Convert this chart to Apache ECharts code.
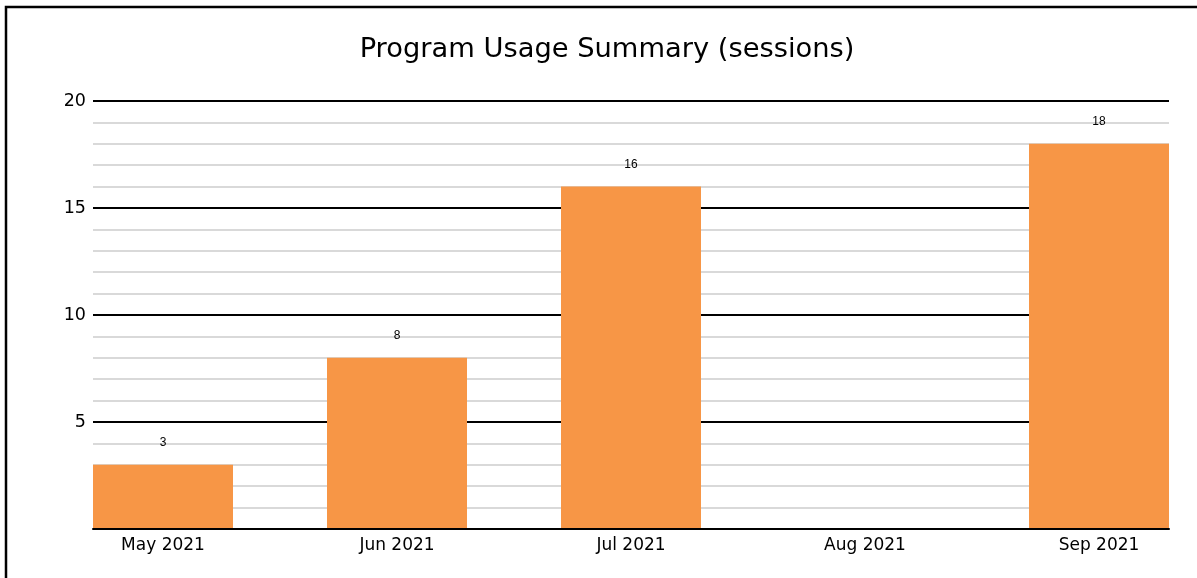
<!DOCTYPE html>
<html>
<head>
<meta charset="utf-8">
<script src="https://cdn.jsdelivr.net/npm/echarts@6/dist/echarts.min.js"></script>
<style>
  html, body { margin: 0; padding: 0; background: #fff; }
  #chart { width: 1197px; height: 578px; }
</style>
</head>
<body>
<div id="chart"></div>
<script>
// Monthly session counts
const months = ['May 2021', 'Jun 2021', 'Jul 2021', 'Aug 2021', 'Sep 2021'];
const sessions = [3, 8, 16, 0, 18];
const yTicks = [0, 5, 10, 15, 20];

const FONT = 'DejaVu Sans';
const yMax = yTicks[yTicks.length - 1];
const yStep = yTicks[1] - yTicks[0];

const chart = echarts.init(document.getElementById('chart'), null, { renderer: 'canvas' });

chart.setOption({
  backgroundColor: '#ffffff',
  animation: false,
  title: {
    text: 'Program Usage Summary (sessions)',
    left: 602,
    top: 31,
    textAlign: 'center',
    textStyle: { fontFamily: FONT, fontSize: 27.3, fontWeight: 'normal', color: '#000' }
  },
  graphic: [{
    type: 'rect',
    shape: { x: 6, y: 7, width: 1400, height: 800 },
    style: { fill: 'none', stroke: '#000', lineWidth: 2.5 },
    silent: true,
    z: 100
  }],
  grid: [
    // grid holding the value scale and gridlines
    { left: 93, right: 28, top: 101, bottom: 49 },
    // grid holding the bars, one 234px band per month
    { left: 46, width: 1170, top: 101, bottom: 49, outerBoundsMode: 'none' }
  ],
  xAxis: [
    {
      gridIndex: 0,
      type: 'category',
      data: months,
      axisLine: { show: true, lineStyle: { color: '#000', width: 2 } },
      axisTick: { show: false },
      axisLabel: { show: false },
      splitLine: { show: false },
      z: 10
    },
    {
      gridIndex: 1,
      type: 'category',
      data: months,
      axisLine: { show: false },
      axisTick: { show: false },
      axisLabel: { fontFamily: FONT, fontSize: 17, color: '#000', margin: 8 },
      splitLine: { show: false }
    }
  ],
  yAxis: [
    {
      gridIndex: 0,
      type: 'value',
      min: 0,
      max: yMax,
      interval: yStep,
      axisLine: { show: false },
      axisTick: { show: false },
      minorTick: { show: false, splitNumber: 5 },
      axisLabel: {
        fontFamily: FONT, fontSize: 17.5, color: '#000', margin: 7,
        formatter: v => (v === 0 ? '' : String(v))
      },
      splitLine: { show: true, lineStyle: { color: '#000', width: 2 } },
      minorSplitLine: { show: true, lineStyle: { color: '#d9d9d9', width: 2 } }
    },
    {
      gridIndex: 1,
      type: 'value',
      min: 0,
      max: yMax,
      interval: yStep,
      show: false,
      splitLine: { show: false }
    }
  ],
  series: [{
    type: 'bar',
    xAxisIndex: 1,
    yAxisIndex: 1,
    data: sessions,
    barWidth: 140,
    itemStyle: { color: '#F79646' },
    label: {
      show: true,
      position: 'top',
      distance: 16,
      fontFamily: 'Liberation Sans',
      fontSize: 12,
      color: '#000',
      formatter: p => (p.value === 0 ? '' : String(p.value))
    }
  }]
});
</script>
</body>
</html>
